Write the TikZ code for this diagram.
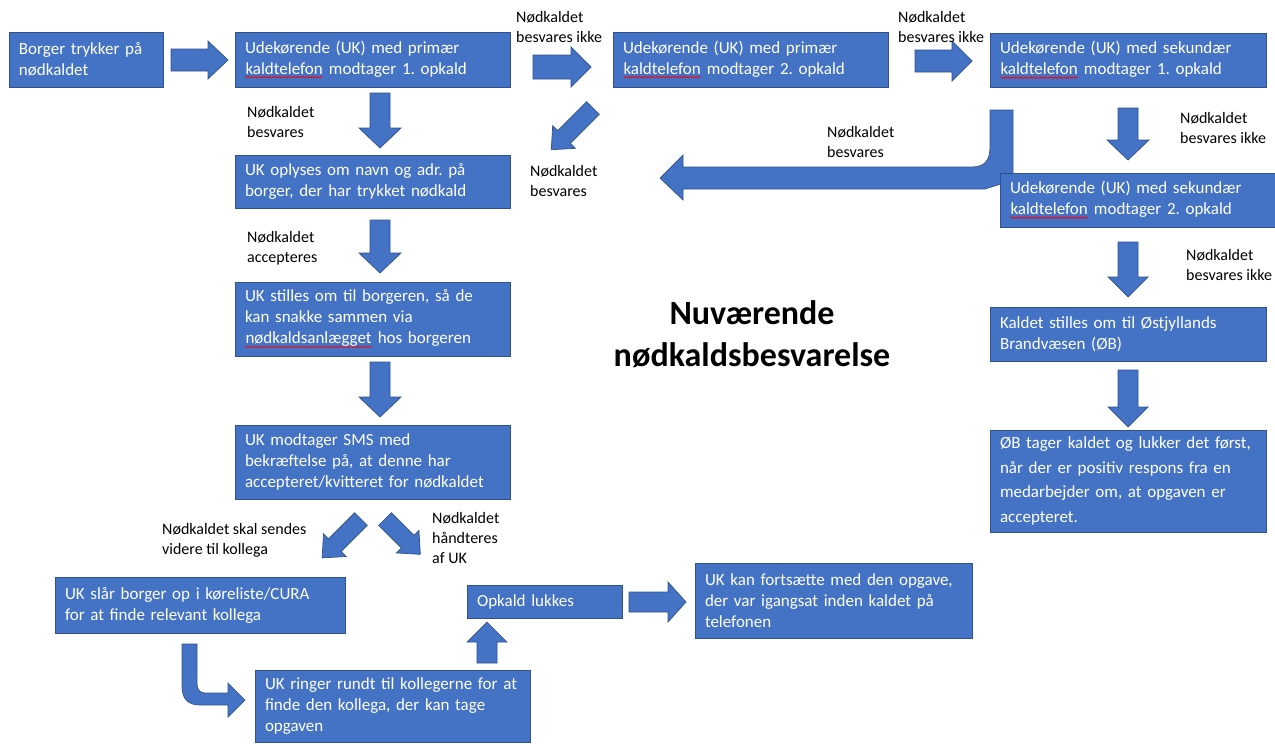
\documentclass[tikz,border=0pt]{standalone}
\usepackage{fontspec}
\setmainfont{Carlito}
\usetikzlibrary{decorations.pathmorphing}
\definecolor{bxblue}{HTML}{4472C4}
\definecolor{bxedge}{HTML}{2F528F}
\frenchspacing
\newcommand\spell[1]{\tikz[baseline=(w.base),x=1pt,y=1pt]{\node[inner sep=0pt,draw=none,fill=none,text=white,minimum width=0pt,minimum height=0pt,text width=] (w) {#1};\draw[red,line width=0.6pt,decorate,decoration={snake,amplitude=0.8pt,segment length=3pt}] ([yshift=-3pt]w.base west) -- ([yshift=-3pt]w.base east);}}
\newcommand\Bx[6]{%
  \pgfmathsetmacro\bxw{#4-#2}\pgfmathsetmacro\bxh{#5-#3}\pgfmathsetmacro\bxt{#4-#2-20}%
  \node[bx, minimum width=\bxw pt, minimum height=\bxh pt, text width=\bxt pt] (#1) at ({(#2+#4)/2},{(#3+#5)/2}) {#6};}
\newcommand\BArrow[8]{%
  \draw[blk, shift={(#3,#4)}, rotate=#2] (0,-#6) -- ({#5-#8},-#6) -- ({#5-#8},-#7) -- (#5,0) -- ({#5-#8},#7) -- ({#5-#8},#6) -- (0,#6) -- cycle;
  \coordinate (#1) at (#3,#4);}
\begin{document}
\begin{tikzpicture}[x=1pt,y=-1pt,
  bx/.style={fill=bxblue, draw=bxedge, line width=0.7pt, text=white, align=left, inner xsep=10pt, inner ysep=0pt, font=\fontsize{17}{21}\selectfont},
  blk/.style={fill=bxblue, draw=bxedge, line width=0.7pt},
  lbl/.style={anchor=base west, align=left, inner sep=0pt, font=\fontsize{16}{20}\selectfont}]
\useasboundingbox (0,0) rectangle (1275,744);

% curved big arrow (behind box 5)
\draw[blk] (660,178) -- (683,155) -- (683,167) -- (972,167) .. controls (985,167) and (990,160) .. (990,147) -- (990,110) -- (1013,110) -- (1013,180) -- (985,189) -- (683,189) -- (683,200) -- cycle;
\coordinate (cv) at (1001,110);

% boxes
\Bx{b1}{9}{32}{163}{87}{Borger trykker på\\nødkaldet}
\Bx{b2}{235}{32}{510}{87}{Udekørende (UK) med primær\\\spell{kaldtelefon} modtager 1. opkald}
\Bx{b3}{613}{32}{888}{87}{Udekørende (UK) med primær\\\spell{kaldtelefon} modtager 2. opkald}
\Bx{b4}{990}{33}{1266}{87}{Udekørende (UK) med sekundær\\\spell{kaldtelefon} modtager 1. opkald}
\Bx{b5}{1000}{173}{1276}{227}{Udekørende (UK) med sekundær\\\spell{kaldtelefon} modtager 2. opkald}
\Bx{b6}{990}{307}{1266}{361}{Kaldet stilles om til Østjyllands\\Brandvæsen (ØB)}
\node[bx, minimum width=276pt, minimum height=102pt, text width=256pt, font=\fontsize{17}{24.5}\selectfont] (b7) at (1128,481) {ØB tager kaldet og lukker det først,\\når der er positiv respons fra en\\medarbejder om, at opgaven er\\accepteret.};
\Bx{b8}{235}{155}{510}{208}{UK oplyses om navn og adr. på\\borger, der har trykket nødkald}
\Bx{b9}{235}{282}{510}{356}{UK stilles om til borgeren, så de\\kan snakke sammen via\\\spell{nødkaldsanlægget} hos borgeren}
\Bx{b10}{235}{425}{510}{499}{UK modtager SMS med\\bekræftelse på, at denne har\\accepteret/kvitteret for nødkaldet}
\Bx{b11}{55}{577}{345}{633}{UK slår borger op i køreliste/CURA\\for at finde relevant kollega}
\Bx{b12}{255}{670}{530}{742}{UK ringer rundt til kollegerne for at\\finde den kollega, der kan tage\\opgaven}
\Bx{b13}{467}{585}{622}{618}{Opkald lukkes}
\Bx{b14}{695}{563}{972}{638}{UK kan fortsætte med den opgave,\\der var igangsat inden kaldet på\\telefonen}

% block arrows
\BArrow{a1}{0}{171}{60}{57}{11}{19}{20}
\BArrow{a2}{0}{533}{67}{58}{12}{20}{20}
\BArrow{a3}{0}{915}{61}{57}{11}{20}{20}
\BArrow{a4}{0}{629}{602}{57}{10}{20}{18}
\BArrow{a5}{-90}{380}{93}{55}{10}{21}{20}
\BArrow{a6}{-90}{380}{220}{53}{10}{21}{20}
\BArrow{a7}{-90}{380}{362}{55}{10}{21}{20}
\BArrow{a8}{-90}{1128}{108}{52}{10}{21}{20}
\BArrow{a9}{-90}{1128}{242}{55}{10}{20}{20}
\BArrow{a10}{-90}{1128}{370}{57}{10}{20}{20}
\BArrow{a11}{90}{487}{663}{41}{10}{20}{20}
\BArrow{a12}{-135}{593}{108}{59}{9}{16}{18}
\BArrow{a13}{-135}{361}{519}{55}{9}{16}{18}
\BArrow{a14}{-45}{385}{519}{50}{9}{16}{18}

% bent arrow bottom left
\draw[blk] (182,644) -- (182,686) .. controls (182,699) and (188,705) .. (200,705) -- (228,705) -- (228,717) -- (245,700) -- (228,683) -- (228,693) -- (205,693) .. controls (199,693) and (197,689) .. (197,683) -- (197,644) -- cycle;

% labels (anchor = baseline of last line)
\node[lbl] (l1) at (516,42) {Nødkaldet\\besvares ikke};
\node[lbl] (l2) at (898,42) {Nødkaldet\\besvares ikke};
\node[lbl] (l3) at (247,137) {Nødkaldet\\besvares};
\node[lbl] (l4) at (530,196) {Nødkaldet\\besvares};
\node[lbl] (l5) at (827,157) {Nødkaldet\\besvares};
\node[lbl] (l6) at (1180,143) {Nødkaldet\\besvares ikke};
\node[lbl] (l7) at (247,262) {Nødkaldet\\accepteres};
\node[lbl] (l8) at (1186,280) {Nødkaldet\\besvares ikke};
\node[lbl] (l9) at (162,554) {Nødkaldet skal sendes\\videre til kollega};
\node[lbl] (l10) at (432,563) {Nødkaldet\\håndteres\\af UK};

% title
\node[font=\bfseries\fontsize{34}{42}\selectfont, align=center] (title) at (752,334) {Nuværende\\nødkaldsbesvarelse};
\end{tikzpicture}
\end{document}
